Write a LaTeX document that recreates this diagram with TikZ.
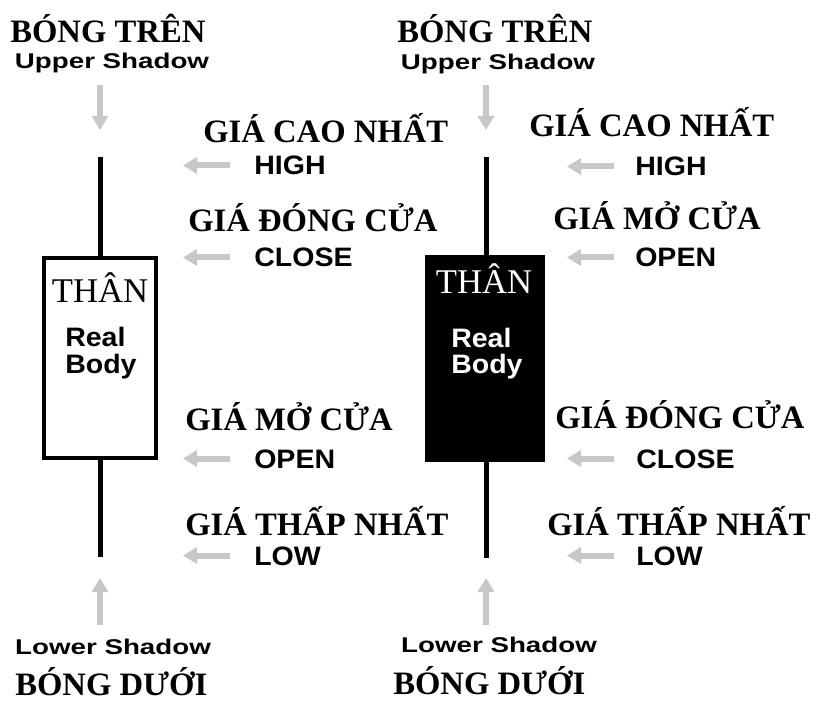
\documentclass[tikz,border=0pt]{standalone}
\usepackage{fontspec}
\setmainfont{Liberation Serif}
\newfontfamily\shadowfont[FakeStretch=1.3]{Liberation Sans}
\newfontfamily\pricefont[FakeStretch=1.07]{Liberation Sans}
\usetikzlibrary{arrows.meta}

\definecolor{ptrgray}{RGB}{200,200,200}

\tikzset{
  vn/.style={font=\bfseries\fontsize{24.5}{26}\selectfont,inner sep=0pt,anchor=base west},
  en/.style={font=\pricefont\bfseries\fontsize{20}{22}\selectfont,inner sep=0pt,anchor=base west},
  sh/.style={font=\shadowfont\bfseries\fontsize{16}{18}\selectfont,inner sep=0pt,anchor=base},
  th/.style={font=\fontsize{26}{28}\selectfont,inner sep=0pt,anchor=base},
  pointer/.style={draw=ptrgray,line width=4.5pt,-{Triangle[length=10.5pt,width=12pt]}},
  wick/.style={line width=3.75pt},
}

\begin{document}
\begin{tikzpicture}[x=0.75pt,y=-0.75pt]
  \useasboundingbox (0,0) rectangle (817,702);

  % candles
  \coordinate (w1t) at (100,157);
  \coordinate (w1b) at (100,557);
  \coordinate (w2t) at (486,157);
  \coordinate (w2b) at (486,558);
  \draw[wick] (w1t) -- (w1b);
  \draw[wick] (w2t) -- (w2b);
  \draw[line width=3pt,fill=white] (44,258) rectangle (156,458);
  \fill (425,255) rectangle (545,462);

  \node[th] (th1) at (100,302) {THÂN};
  \node[en] (rl1) at (65,346) {Real};
  \node[en] (bo1) at (65,373) {Body};
  \node[th,white] (th2) at (484,293) {THÂN};
  \node[en,white] (rl2) at (451,347) {Real};
  \node[en,white] (bo2) at (451,373) {Body};

  % shadows
  \node[vn] (bt1) at (10,43) {BÓNG TRÊN};
  \node[sh] (us1) at (112,69) {Upper Shadow};
  \node[vn] (bt2) at (397,43) {BÓNG TRÊN};
  \node[sh] (us2) at (498,70) {Upper Shadow};
  \node[sh] (ls1) at (113,654) {Lower Shadow};
  \node[vn,text depth=0pt] (bd1) at (15,695) {BÓNG DƯỚI};
  \node[sh] (ls2) at (499,652) {Lower Shadow};
  \node[vn,text depth=0pt] (bd2) at (393,694) {BÓNG DƯỚI};

  % white candle labels
  \node[vn] (gc1) at (203,143) {GIÁ CAO NHẤT};
  \node[en] (hi1) at (254,175) {HIGH};
  \node[vn] (gd1) at (188,232) {GIÁ ĐÓNG CỬA};
  \node[en] (cl1) at (254,267) {CLOSE};
  \node[vn] (gm1) at (185,430) {GIÁ MỞ CỬA};
  \node[en] (op1) at (254,468) {OPEN};
  \node[vn] (gt1) at (185,535) {GIÁ THẤP NHẤT};
  \node[en] (lo1) at (254,565) {LOW};

  % black candle labels
  \node[vn] (gc2) at (529,137) {GIÁ CAO NHẤT};
  \node[en] (hi2) at (635,176) {HIGH};
  \node[vn] (gm2) at (553,230) {GIÁ MỞ CỬA};
  \node[en] (op2) at (635,267) {OPEN};
  \node[vn] (gd2) at (555,428) {GIÁ ĐÓNG CỬA};
  \node[en] (cl2) at (636,468) {CLOSE};
  \node[vn] (gt2) at (547,535) {GIÁ THẤP NHẤT};
  \node[en] (lo2) at (636,565) {LOW};

  % shadow pointers
  \path (w1t) +(0,-72) coordinate (us1o) {};
  \path (w1t) +(0,-27) coordinate (w1ti) {};
  \draw[pointer] (us1o) -- (w1ti);
  \path (w2t) +(0,-72) coordinate (us2o) {};
  \path (w2t) +(0,-27) coordinate (w2ti) {};
  \draw[pointer] (us2o) -- (w2ti);
  \path (w1b) +(0,68) coordinate (ls1o) {};
  \path (w1b) +(0,21) coordinate (w1bi) {};
  \draw[pointer] (ls1o) -- (w1bi);
  \path (w2b) +(0,67) coordinate (ls2o) {};
  \path (w2b) +(0,20) coordinate (w2bi) {};
  \draw[pointer] (ls2o) -- (w2bi);

  % price pointers
  \path (node cs:name=hi1,anchor=base west) +(-24,-9.5) coordinate (hi1o) {};
  \path (node cs:name=hi1,anchor=base west) +(-71,-9.5) coordinate (hi1i) {};
  \draw[pointer] (hi1o) -- (hi1i);
  \path (node cs:name=cl1,anchor=base west) +(-24,-9.5) coordinate (cl1o) {};
  \path (node cs:name=cl1,anchor=base west) +(-71,-9.5) coordinate (cl1i) {};
  \draw[pointer] (cl1o) -- (cl1i);
  \path (node cs:name=op1,anchor=base west) +(-24,-9.5) coordinate (op1o) {};
  \path (node cs:name=op1,anchor=base west) +(-71,-9.5) coordinate (op1i) {};
  \draw[pointer] (op1o) -- (op1i);
  \path (node cs:name=lo1,anchor=base west) +(-24,-9.5) coordinate (lo1o) {};
  \path (node cs:name=lo1,anchor=base west) +(-71,-9.5) coordinate (lo1i) {};
  \draw[pointer] (lo1o) -- (lo1i);

  \path (node cs:name=hi2,anchor=base west) +(-21,-9.5) coordinate (hi2o) {};
  \path (node cs:name=hi2,anchor=base west) +(-68,-9.5) coordinate (hi2i) {};
  \draw[pointer] (hi2o) -- (hi2i);
  \path (node cs:name=op2,anchor=base west) +(-21,-9.5) coordinate (op2o) {};
  \path (node cs:name=op2,anchor=base west) +(-68,-9.5) coordinate (op2i) {};
  \draw[pointer] (op2o) -- (op2i);
  \path (node cs:name=cl2,anchor=base west) +(-22,-9.5) coordinate (cl2o) {};
  \path (node cs:name=cl2,anchor=base west) +(-69,-9.5) coordinate (cl2i) {};
  \draw[pointer] (cl2o) -- (cl2i);
  \path (node cs:name=lo2,anchor=base west) +(-22,-9.5) coordinate (lo2o) {};
  \path (node cs:name=lo2,anchor=base west) +(-69,-9.5) coordinate (lo2i) {};
  \draw[pointer] (lo2o) -- (lo2i);
\end{tikzpicture}
\end{document}
